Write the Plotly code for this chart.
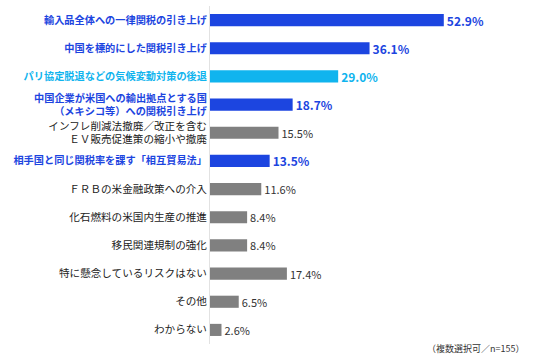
import plotly.graph_objects as go

categories = [
    "輸入品全体への一律関税の引き上げ",
    "中国を標的にした関税引き上げ",
    "パリ協定脱退などの気候変動対策の後退",
    "中国企業が米国への輸出拠点とする国<br>（メキシコ等）への関税引き上げ",
    "インフレ削減法撤廃／改正を含む<br>ＥＶ販売促進策の縮小や撤廃",
    "相手国と同じ関税率を課す「相互貿易法」",
    "ＦＲＢの米金融政策への介入",
    "化石燃料の米国内生産の推進",
    "移民関連規制の強化",
    "特に懸念しているリスクはない",
    "その他",
    "わからない",
]
values = [52.9, 36.1, 29.0, 18.7, 15.5, 13.5, 11.6, 8.4, 8.4, 17.4, 6.5, 2.6]
kinds = ["blue", "blue", "cyan", "blue", "gray", "blue", "gray", "gray", "gray", "gray", "gray", "gray"]
footnote = "（複数選択可／n=155）"

palette = {"blue": "#1c45e0", "cyan": "#10b4ee", "gray": "#808080"}
textcol = {"blue": "#1c45e0", "cyan": "#10b4ee", "gray": "#333333"}

bar_colors = [palette[k] for k in kinds]
val_text = [(f"<b>{v:.1f}%</b>" if k != "gray" else f"{v:.1f}%") for v, k in zip(values, kinds)]
val_colors = [textcol[k] for k in kinds]
val_sizes = [12 if k != "gray" else 11 for k in kinds]

tick_text = []
for c, k in zip(categories, kinds):
    if k == "gray":
        tick_text.append(f"<span style='color:#222222;font-size:10.6px'>{c}</span>")
    else:
        tick_text.append(f"<span style='color:{textcol[k]}'><b>{c}</b></span>")

ypos = list(range(len(categories)))

fig = go.Figure(go.Bar(
    x=values, y=ypos, orientation="h",
    marker=dict(color=bar_colors, line=dict(width=0)),
    width=0.43,
    text=val_text, textposition="outside", cliponaxis=False,
    constraintext="none",
    textfont=dict(color=val_colors, size=val_sizes, family="Noto Sans CJK JP"),
    hoverinfo="skip",
))

fig.update_layout(
    width=536, height=360,
    margin=dict(l=210, r=10, t=6, b=16),
    paper_bgcolor="white", plot_bgcolor="white",
    showlegend=False,
    font=dict(family="Noto Sans CJK JP", size=10.2, color="#222222"),
    xaxis=dict(range=[0, 71.5], visible=False, fixedrange=True),
    yaxis=dict(
        range=[len(categories) - 0.5, -0.5],
        tickmode="array", tickvals=ypos, ticktext=tick_text,
        showline=True, linecolor="#e2e2e2", linewidth=1,
        showgrid=False, zeroline=False, ticks="",
        tickfont=dict(size=10.2), automargin=False,
    ),
    annotations=[dict(
        text=footnote, xref="paper", yref="paper", x=1.0, y=-0.012,
        xanchor="right", yanchor="middle", showarrow=False,
        font=dict(size=9, color="#333333"),
    )],
)

fig.write_html("out.html", config={"displayModeBar": False},
               post_script="document.body.style.margin='0px';")
